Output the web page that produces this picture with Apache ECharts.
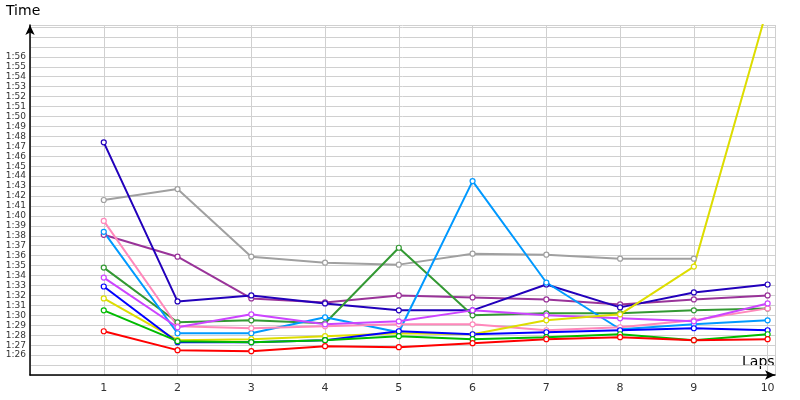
<!DOCTYPE html>
<html><head><meta charset="utf-8">
<script src="https://cdn.jsdelivr.net/npm/echarts@6/dist/echarts.min.js"></script>
<style>body{margin:0}#c{width:800px;height:400px}</style></head>
<body><div id="c"></div>
<script>
const laps=[1,2,3,4,5,6,7,8,9,10];
const red=[88.4,86.5,86.4,86.9,86.8,87.2,87.6,87.8,87.5,87.6];
const lime=[90.5,87.4,87.3,87.5,87.9,87.6,87.8,88.1,87.5,88.1];
const blue=[92.9,87.3,87.3,87.5,88.4,88.1,88.3,88.5,88.7,88.5];
const yellow=[91.7,87.5,87.6,87.9,88.2,88.1,89.5,90.1,94.9,121];
const magenta=[93.8,88.8,90.1,89.1,89.4,90.5,90.0,89.7,89.4,91.2];
const pink=[99.5,88.9,88.7,88.9,89.1,89.1,88.5,88.8,89.5,90.7];
const sky=[98.4,88.2,88.2,89.8,88.3,103.5,93.3,88.6,89.1,89.5];
const dgreen=[94.8,89.3,89.5,89.2,96.8,90.0,90.2,90.2,90.5,90.7];
const purple=[98.1,95.9,91.7,91.3,92.0,91.8,91.6,91.1,91.6,92.0];
const navy=[107.4,91.4,92.0,91.2,90.5,90.5,93.1,90.8,92.3,93.1];
const gray=[101.6,102.7,95.9,95.3,95.1,96.2,96.1,95.7,95.7,null];
const list=[[gray,'#a0a0a0'],[purple,'#993399'],[navy,'#2200bb'],[dgreen,'#339933'],[sky,'#0099ff'],[pink,'#ff88bb'],[magenta,'#cc44ff'],[yellow,'#dddd00'],[blue,'#0000ff'],[lime,'#00bb00'],[red,'#ff0000']];
const fmt=v=>{const s=Math.round(v)-60;return '1:'+(s<10?'0':'')+s;};
const ch=echarts.init(document.getElementById('c'));
ch.setOption({
 animation:false,
 grid:{left:30,right:25,top:25,bottom:25},
 xAxis:{type:'value',min:0,max:10.1,interval:1,
  axisLine:{lineStyle:{color:'#000',width:1.5},symbol:['none','arrow'],symbolSize:[7,10]},
  axisTick:{show:false},
  axisLabel:{color:'#333',fontSize:11,fontFamily:'DejaVu Sans',margin:8,formatter:v=>(v>=1&&v<=10&&v===Math.round(v))?v:''},
  splitLine:{show:true,lineStyle:{color:'#d0d0d0'}}},
 yAxis:{type:'value',min:84,max:119.2,interval:1,
  axisLine:{show:true,lineStyle:{color:'#000',width:1.5},symbol:['none','arrow'],symbolSize:[7,10]},
  axisTick:{show:false},
  axisLabel:{color:'#333',fontSize:9,fontFamily:'DejaVu Sans',margin:4,formatter:v=>(v>=86&&v<=116)?fmt(v):''},
  splitLine:{show:true,lineStyle:{color:'#d0d0d0'}}},
 graphic:[
  {type:'text',left:6,top:4,style:{text:'Time',font:'14px DejaVu Sans',fill:'#000'}},
  {type:'text',left:742,top:355,style:{text:'Laps',font:'14px DejaVu Sans',fill:'#000'}}
 ],
 series:list.map(([d,c])=>({type:'line',data:laps.map((l,i)=>[l,d[i]]),
  symbol:'circle',symbolSize:5,showAllSymbol:true,
  lineStyle:{color:c,width:2},itemStyle:{color:'#fff',borderColor:c,borderWidth:1.2},clip:true}))
});
</script></body></html>
